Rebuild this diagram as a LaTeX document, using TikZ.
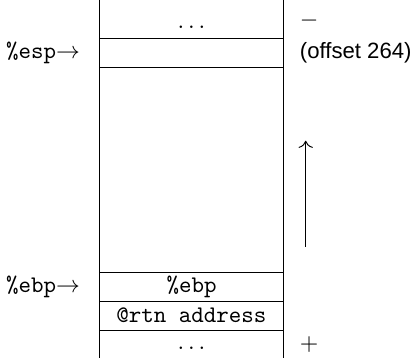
\documentclass[tikz,border=0pt]{standalone}
\usepackage{fontspec}
\newfontfamily\offsetfont{Liberation Sans}
\usetikzlibrary{arrows.meta}
\begin{document}
\begin{tikzpicture}[x=0.42pt,y=-0.42pt,
  rule/.style={line width=0.4pt,draw=black},
  cell/.style={inner sep=0pt,font=\ttfamily},
  lbl/.style={inner sep=0pt,anchor=east}]
\useasboundingbox (0,0) rectangle (414,358);
% vertical borders
\draw[rule] (99.5,0) -- (99.5,358);
\draw[rule] (283.2,0) -- (283.2,358);
% horizontal rules
\foreach \yy in {38.3,67.7,272.3,301,330.3}
  \draw[rule] (99.5,\yy) -- (283.2,\yy);
% cells
\node[cell,anchor=base] (topdots) at (191.5,28.5) {$\ldots$};
\node[cell] (ebpcell) at (191.5,286.5) {\%ebp};
\node[cell] (rtn) at (191.5,315.5) {@rtn address};
\node[cell,anchor=base] (botdots) at (191.5,349) {$\ldots$};
% left labels
\node[lbl] (esp) at (80.5,53) {\texttt{\%esp}$\rightarrow$};
\node[lbl] (ebp) at (80.5,286.5) {\texttt{\%ebp}$\rightarrow$};
% right side
\node[inner sep=0pt,anchor=west] (minus) at (299.5,21) {$-$};
\node[inner sep=0pt,anchor=west,font={\offsetfont\fontsize{9.3}{11}\selectfont}] (offset) at (299.5,53) {(offset 264)};
\node[inner sep=0pt,anchor=west] (plus) at (299.5,345) {$+$};
\coordinate (abot) at (305.7,246.7);
\coordinate (atop) at (305.7,140.7);
\draw[line width=0.4pt,-{Computer Modern Rightarrow[length=3pt,width=6pt]}] (abot) -- (atop);
\end{tikzpicture}
\end{document}
